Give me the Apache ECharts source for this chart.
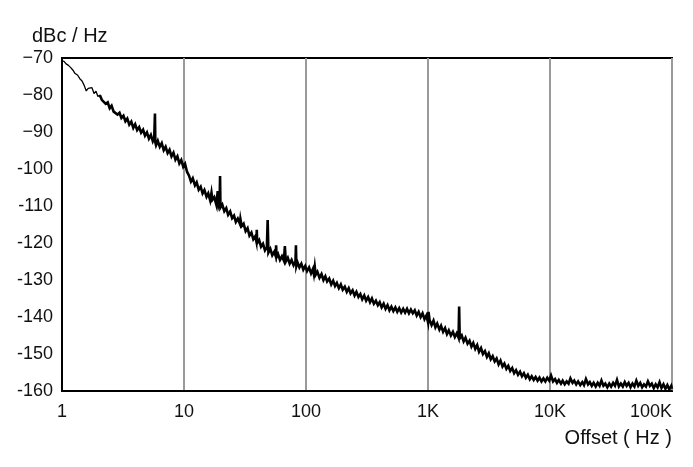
<!DOCTYPE html>
<html>
<head>
<meta charset="utf-8">
<script src="https://cdn.jsdelivr.net/npm/echarts@6/dist/echarts.min.js"></script>
<style>
html,body{margin:0;padding:0;background:#fff;}
#chart{width:693px;height:467px;}
</style>
</head>
<body>
<div id="chart"></div>
<script>
// ---- Data ----
const yAxisTitle = 'dBc / Hz';
const xAxisTitle = 'Offset ( Hz )';
const xTickValues = [1, 10, 100, 1000, 10000, 100000];
const xTickLabels = ['1', '10', '100', '1K', '10K', '100K'];
const yTickValues = [-160, -150, -140, -130, -120, -110, -100, -90, -80, -70];
const yTickLabels = ['-160', '-150', '-140', '-130', '-120', '-110', '-100', '\u221290', '\u221280', '\u221270'];

const freqs = [
  1, 1.04, 1.08, 1.13, 1.18, 1.23, 1.28, 1.34, 1.40, 1.46, 1.52, 1.58, 1.64, 1.70, 1.76, 1.83, 1.90, 1.97,
  2.04, 2.12, 2.20, 2.28, 2.37, 2.46, 2.55, 2.65, 2.75, 2.85, 2.96, 3.07, 3.19, 3.31, 3.43, 3.56, 3.70, 3.84,
  3.98, 4.13, 4.29, 4.45, 4.62, 4.79, 4.97, 5.16, 5.35, 5.55, 5.70, 5.78, 5.82, 5.90, 6.10, 6.33, 6.57, 6.82,
  7.07, 7.34, 7.61, 7.90, 8.20, 8.51, 8.83, 9.16, 9.50, 9.86,
  10.2, 10.6, 11.0, 11.4, 11.8, 12.3, 12.7, 13.2, 13.7, 14.2, 14.7, 15.3, 15.8, 16.4, 16.8, 17.1, 17.7, 18.4,
  18.9, 19.2, 19.6, 19.75, 19.9, 20.6, 21.4, 22.2, 23.0, 23.9, 24.8, 25.7, 26.6, 27.6, 28.7, 29.0, 29.7, 30.8,
  32.0, 33.2, 34.4, 35.7, 37.0, 38.4, 39.2, 39.5, 39.8, 41.3, 42.8, 44.4, 46.1, 47.8, 48.5, 49.2, 51.0, 52.9,
  54.9, 56.5, 56.9, 57.4, 59.0, 61.2, 63.5, 65.9, 67.1, 68.3, 70.9, 73.5, 76.2, 79.1, 82.0, 82.7, 83.4, 85.1,
  88.3, 91.6, 95.0, 98.6,
  102, 106, 110, 114, 116, 118, 120, 124, 129, 134, 139, 144, 149, 155, 161, 167, 173, 179, 186, 193, 200,
  208, 216, 224, 232, 241, 250, 259, 269, 279, 289, 300, 311, 323, 335, 347, 360, 374, 388, 402, 417, 433,
  449, 466, 483, 501, 520, 540, 560, 581, 603, 626, 649, 673, 698, 724, 751, 779, 808, 838, 870, 902, 936,
  971, 1000, 1010, 1030,
  1070, 1110, 1150, 1190, 1240, 1280, 1330, 1380, 1430, 1480, 1540, 1600, 1660, 1720, 1780, 1800, 1820, 1890,
  1960, 2030, 2110, 2190, 2270, 2350, 2440, 2530, 2620, 2720, 2820, 2930, 3040, 3150, 3270, 3390, 3520, 3650,
  3790, 3930, 4080, 4230, 4390, 4550, 4720, 4900, 5080, 5270, 5470, 5680, 5890, 6110, 6340, 6580, 6830, 7080,
  7350, 7620, 7910, 8200, 8510, 8830, 9160, 9500, 9860,
  10200, 10600, 11000, 11400, 11800, 12300, 12700, 13200, 13700, 14200, 14700, 15300, 15800, 16400, 17000,
  17700, 18400, 19000, 19700, 20500, 21200, 22000, 22800, 23700, 24600, 25500, 26400, 27400, 28400, 29500,
  30600, 31700, 32900, 34100, 35400, 36700, 38100, 39500, 41000, 42500, 44100, 45700, 47400, 49200, 51000,
  52900, 54900, 56900, 59000, 61200, 63500, 65900, 68300, 70900, 73500, 76200, 79100, 82000, 85100, 88300,
  91600, 95000, 98600, 100000
];

const levels = [
  -70.8, -70.9, -71.6, -72.0, -72.6, -73.3, -74.2, -74.6, -75.6, -76.2, -77.4, -78.9, -78.2, -78.6, -78.0, -79.6, -79.0, -80.4,
  -80.0, -81.3, -81.0, -82.4, -82.0, -83.6, -82.9, -84.5, -84.0, -85.3, -84.8, -86.2, -85.6, -87.1, -86.4, -88.0, -87.2, -88.9,
  -87.9, -89.5, -88.7, -90.2, -89.4, -91.0, -90.1, -91.8, -90.8, -92.5, -91.6, -85.0, -92.8, -93.6, -92.4, -94.0, -93.0, -94.9,
  -94.0, -95.7, -94.8, -96.6, -95.6, -97.5, -96.6, -98.5, -97.6, -99.4,
  -98.6, -100.8, -101.8, -103.4, -102.5, -104.4, -103.6, -105.6, -104.8, -106.6, -105.7, -107.5, -106.6, -108.5, -106.4, -108.3, -107.6, -109.6,
  -106.0, -109.8, -108.8, -101.9, -110.4, -109.6, -111.4, -110.6, -112.4, -111.5, -113.3, -112.6, -114.3, -113.4, -114.8, -113.5, -115.4, -114.8,
  -116.8, -116.0, -118.0, -117.2, -119.0, -118.2, -119.6, -116.4, -120.0, -119.2, -121.0, -120.2, -122.0, -121.2, -113.8, -122.6, -121.6, -123.3,
  -122.4, -123.6, -120.6, -123.8, -123.0, -124.6, -123.6, -124.8, -120.8, -125.0, -124.0, -125.6, -124.6, -126.0, -125.0, -120.6, -126.2, -125.2,
  -126.6, -125.6, -127.2, -126.2,
  -127.6, -126.6, -128.2, -127.0, -128.4, -126.4, -128.6, -127.8, -129.4, -128.4, -130.0, -129.0, -130.4, -129.6, -131.2, -130.2, -131.6, -130.8, -132.2, -131.2, -132.6,
  -131.8, -133.2, -132.2, -133.6, -132.8, -134.2, -133.2, -134.6, -133.8, -135.2, -134.2, -135.6, -134.6, -136.0, -135.0, -136.4, -135.6, -136.8, -136.0, -137.4, -136.4,
  -137.8, -136.8, -138.2, -137.2, -138.4, -137.4, -138.6, -137.6, -138.8, -137.8, -138.8, -137.8, -139.0, -138.0, -139.0, -138.2, -139.6, -138.6, -140.0, -139.0, -140.6,
  -139.6, -141.4, -138.6, -140.8,
  -142.2, -141.0, -142.8, -141.8, -143.4, -142.4, -144.0, -143.0, -144.6, -143.6, -145.0, -144.0, -145.4, -144.4, -145.6, -137.2, -145.8, -145.0,
  -146.6, -145.6, -147.2, -146.4, -148.0, -147.0, -148.6, -147.6, -149.4, -148.4, -150.0, -149.2, -150.8, -149.8, -151.4, -150.6, -152.0, -151.2,
  -152.8, -151.8, -153.4, -152.6, -154.0, -153.2, -154.6, -153.8, -155.2, -154.4, -155.6, -154.8, -156.0, -155.2, -156.4, -155.6, -156.8, -156.0,
  -157.0, -156.2, -157.2, -156.4, -157.4, -156.6, -157.4, -156.4, -157.2,
  -155.8, -157.4, -156.8, -157.8, -157.0, -158.0, -157.2, -158.2, -157.4, -158.0, -156.6, -157.8, -157.2, -158.2, -157.4,
  -158.4, -157.6, -158.4, -156.8, -158.2, -157.6, -158.6, -157.8, -158.8, -157.8, -158.6, -157.2, -158.6, -158.0, -159.0,
  -158.0, -158.8, -157.8, -158.6, -157.0, -158.8, -158.0, -158.8, -157.6, -158.6, -157.8, -159.0, -158.0, -158.8, -157.2,
  -158.6, -157.8, -159.0, -158.2, -158.8, -157.4, -158.6, -158.0, -159.2, -158.2, -159.0, -157.6, -159.2, -158.2, -159.4,
  -158.4, -159.6, -158.6, -159.4
];

// the low-offset part of the trace is drawn thin, the dense part thick
const thinUpTo = 2.1;

// ---- Chart ----
const FONT = '"Liberation Sans", Arial, sans-serif';
const chart = echarts.init(document.getElementById('chart'), null, {renderer: 'canvas'});
const allData = freqs.map((f, i) => [f, levels[i]]);
const thinData = allData.filter(p => p[0] <= thinUpTo);
const thickData = allData.filter((p, i) => p[0] >= thinUpTo || (i + 1 < allData.length && allData[i + 1][0] > thinUpTo && p[0] <= thinUpTo));

chart.setOption({
  animation: false,
  backgroundColor: '#ffffff',
  title: [
    {text: yAxisTitle, left: 27, top: 21, textStyle: {fontFamily: FONT, fontSize: 20, fontWeight: 'normal', color: '#111'}},
    {text: xAxisTitle, right: 16, top: 423, textStyle: {fontFamily: FONT, fontSize: 20, fontWeight: 'normal', color: '#111'}}
  ],
  grid: {left: 62, right: 21, top: 58, bottom: 76, show: true, borderColor: '#000', borderWidth: 2, backgroundColor: '#fff'},
  xAxis: {
    type: 'log', logBase: 10, min: 1, max: 100000,
    axisLine: {show: true, lineStyle: {color: '#000', width: 2}},
    axisTick: {show: false},
    splitLine: {show: true, lineStyle: {color: '#9a9a9a', width: 2}},
    axisLabel: {
      fontFamily: FONT, fontSize: 18, color: '#111', margin: 12, alignMaxLabel: 'right',
      formatter: v => { const i = xTickValues.findIndex(t => Math.abs(t - v) / t < 1e-6); return i >= 0 ? xTickLabels[i] : ''; }
    }
  },
  yAxis: {
    type: 'value', min: -160, max: -70, interval: 10,
    axisLine: {show: true, lineStyle: {color: '#000', width: 2}},
    axisTick: {show: false},
    splitLine: {show: false},
    axisLabel: {
      fontFamily: FONT, fontSize: 18, color: '#111', margin: 9,
      formatter: v => { const i = yTickValues.indexOf(Math.round(v)); return i >= 0 ? yTickLabels[i] : ''; }
    }
  },
  series: [
    {type: 'line', data: thinData, showSymbol: false, symbol: 'none', lineStyle: {color: '#000', width: 1.3}, silent: true},
    {type: 'line', data: thickData, showSymbol: false, symbol: 'none', lineStyle: {color: '#000', width: 2.6, join: 'miter'}, silent: true}
  ]
});
</script>
</body>
</html>
